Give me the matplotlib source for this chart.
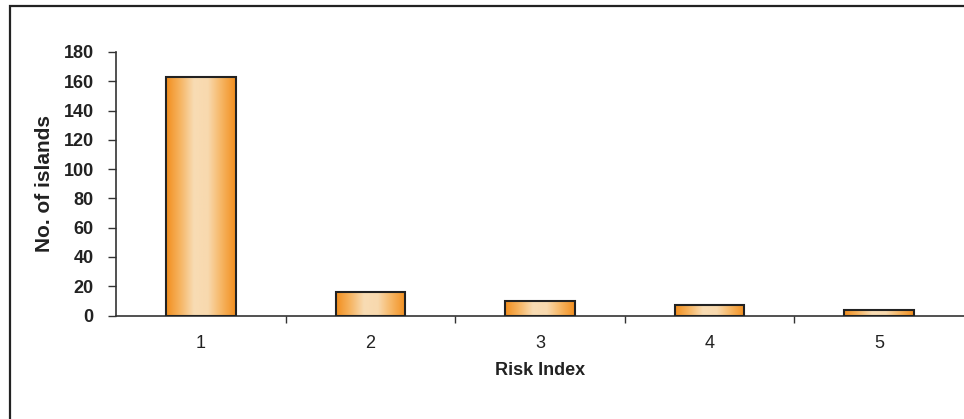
import numpy as np
import matplotlib.pyplot as plt
import matplotlib.patches as mpatches
from matplotlib.colors import LinearSegmentedColormap

plt.rcParams['font.family'] = ['Liberation Sans', 'DejaVu Sans']

categorias = ['1', '2', '3', '4', '5']
n_ilhas = [163, 16, 10, 7, 4]

fig = plt.figure(figsize=(9.64, 4.19), dpi=100)
ax = fig.add_axes([0.1203, 0.247, 0.8797, 0.629])

# moldura externa (cortada a direita e embaixo)
borda = mpatches.Rectangle((10 / 964, -0.1), 1.2, 1.1 - 6 / 419, transform=fig.transFigure,
                           fill=False, edgecolor='#222222', linewidth=1.6)
fig.patches.append(borda)

# gradiente horizontal laranja -> claro -> laranja
cmap = LinearSegmentedColormap.from_list('laranja', ['#F28E1E', '#F6B461', '#F8DCB4', '#F8D9AE', '#F6B461', '#F28E1E'])
grad = np.linspace(0, 1, 256).reshape(1, -1)

x = np.arange(1, len(categorias) + 1)
largura = 0.41
barras = ax.bar(x, n_ilhas, width=largura, facecolor='none', edgecolor='#222222', linewidth=1.5, zorder=3)
for b in barras:
    x0, y0 = b.get_x(), b.get_y()
    img = ax.imshow(grad, cmap=cmap, aspect='auto', extent=[x0, x0 + b.get_width(), y0, y0 + b.get_height()],
                    zorder=2)
    img.set_clip_path(b)

ax.set_xlim(0.5, 5.5)
ax.set_ylim(0, 180)
ax.set_yticks(range(0, 181, 20))
ax.set_xticks(x)
ax.set_xticklabels(categorias, fontsize=13, color='#222222')
ax.set_xticks(np.arange(1.5, 5.5, 1), minor=True)
ax.tick_params(axis='x', which='major', length=0, pad=14)
ax.tick_params(axis='x', which='minor', length=5, width=1, color='#333333')
ax.tick_params(axis='y', length=6, width=1, color='#333333', labelsize=13, pad=10)
for lbl in ax.get_yticklabels():
    lbl.set_fontweight('bold')
    lbl.set_color('#222222')

for lado in ['top', 'right']:
    ax.spines[lado].set_visible(False)
for lado in ['left', 'bottom']:
    ax.spines[lado].set_color('#333333')
    ax.spines[lado].set_linewidth(1.2)

ax.set_xlabel('Risk Index', fontsize=13, fontweight='bold', color='#222222', labelpad=7)
ax.set_ylabel('No. of islands', fontsize=15, fontweight='bold', color='#222222', labelpad=7)

fig.savefig('out.png', dpi=100)
